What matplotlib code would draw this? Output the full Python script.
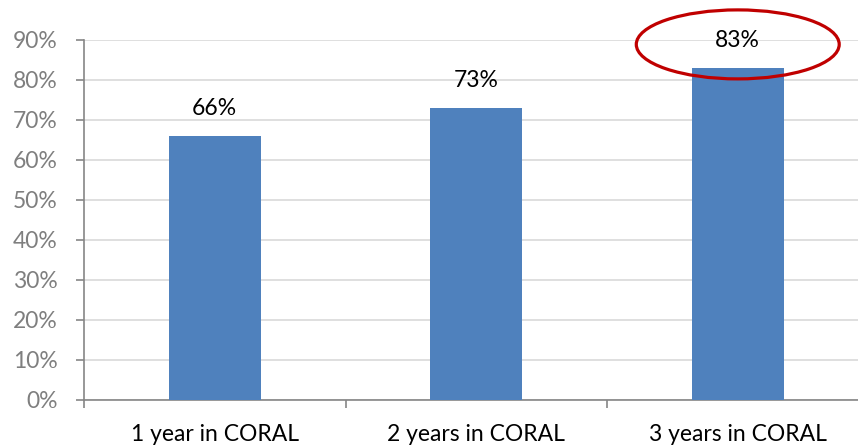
import matplotlib
matplotlib.use("Agg")
import matplotlib.pyplot as plt
from matplotlib.patches import Ellipse
from matplotlib.ticker import MultipleLocator, FuncFormatter

categories = ["1 year in CORAL", "2 years in CORAL", "3 years in CORAL"]
values = [0.66, 0.73, 0.83]
value_labels = ["66%", "73%", "83%"]

plt.rcParams["font.family"] = ["Lato", "DejaVu Sans"]

fig = plt.figure(figsize=(8.58, 4.46), dpi=100)
W, H = 858, 446
left_px, right_px, top_px, bottom_px = 84, 868.5, 40, 400
ax = fig.add_axes([left_px / W, 1 - bottom_px / H,
                   (right_px - left_px) / W, (bottom_px - top_px) / H])

x = range(len(categories))
ax.bar(x, values, width=0.35, color="#4F81BD", zorder=3)

for xi, v, lab in zip(x, values, value_labels):
    ax.annotate(lab, (xi, v), xytext=(0, 20), textcoords="offset points",
                ha="center", va="center", fontsize=16.5, color="#000000", zorder=4)

ax.set_xlim(-0.5, len(categories) - 0.5)
ax.set_ylim(0, 0.9)
ax.yaxis.set_major_locator(MultipleLocator(0.1))
ax.yaxis.set_major_formatter(FuncFormatter(lambda v, p: f"{v*100:.0f}%"))
ax.grid(axis="y", color="#D9D9D9", linewidth=1.2, zorder=0)
ax.set_axisbelow(True)

ax.set_xticks([i + 0.5 for i in range(-1, len(categories))])
ax.set_xticklabels([])
ax.set_xticks(list(x), minor=True)
ax.set_xticklabels(categories, minor=True, fontsize=16.5, color="#000000")
ax.tick_params(axis="x", which="minor", length=0, pad=17)
ax.tick_params(axis="x", which="major", length=6, width=1.2, color="#868686", direction="out")
ax.tick_params(axis="y", length=6, width=1.2, color="#868686", labelsize=16.5,
               labelcolor="#7F7F7F", pad=13)

for side in ("top", "right"):
    ax.spines[side].set_visible(False)
for side in ("left", "bottom"):
    ax.spines[side].set_color("#868686")
    ax.spines[side].set_linewidth(1.2)

# highlight around the third bar's label
ax.add_patch(Ellipse((2, 0.889), 0.776, 0.1725, fill=False, edgecolor="#C00000",
                     linewidth=2.3, clip_on=False, zorder=5))

fig.savefig("out.png", dpi=100)
